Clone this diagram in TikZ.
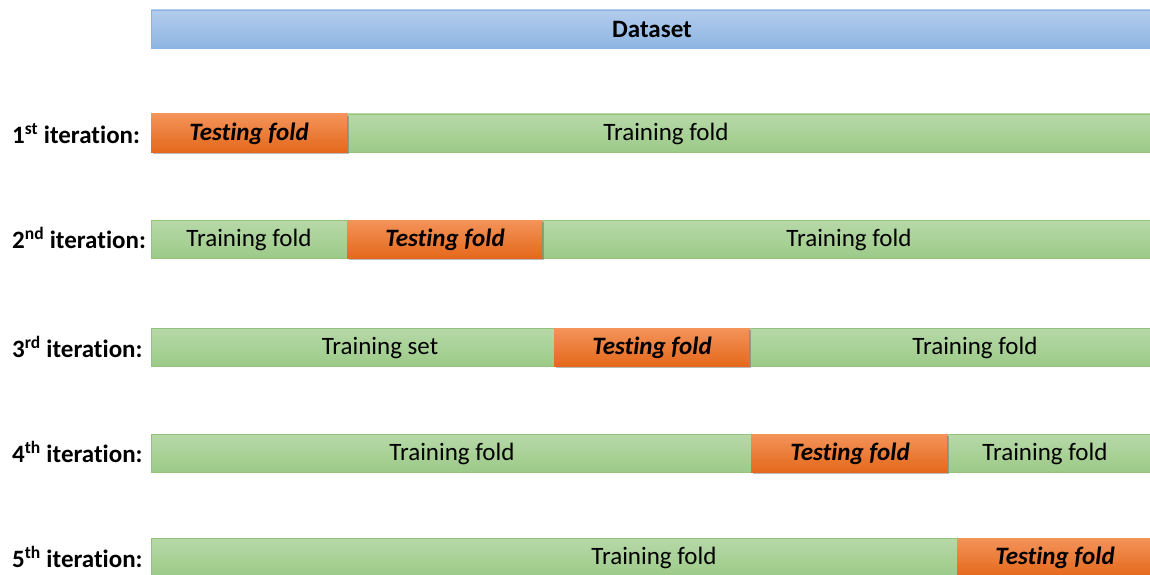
\documentclass[tikz,border=0pt]{standalone}
\usepackage{fontspec}
\setmainfont{Carlito}[Ligatures=NoCommon]
\usetikzlibrary{shadows}
\definecolor{gtop}{HTML}{B7D9A8}
\definecolor{gbot}{HTML}{9CCA88}
\definecolor{gline}{HTML}{93C47D}
\definecolor{otop}{HTML}{F4935A}
\definecolor{obot}{HTML}{E4691B}
\definecolor{btop}{HTML}{B2CCEC}
\definecolor{bbot}{HTML}{8EB6E3}
\definecolor{bline}{HTML}{8DB3E2}
\tikzset{
  bar/.style={anchor=north west, minimum height=38pt, inner sep=0pt, outer sep=0pt},
  trainbar/.style={bar, top color=gtop, bottom color=gbot, draw=gline, line width=0.8pt},
  testbar/.style={bar, top color=otop, bottom color=obot, draw=none,
    drop shadow={opacity=0.45, shadow xshift=1.5pt, shadow yshift=-2pt, fill=black!60}},
  databar/.style={bar, top color=btop, bottom color=bbot, draw=bline, line width=0.8pt},
  txt/.style={font=\fontsize{25}{30}\selectfont, inner sep=0pt},
  testtxt/.style={font=\fontsize{25}{30}\selectfont\bfseries\itshape, inner sep=0pt},
  lab/.style={font=\fontsize{25}{30}\selectfont\bfseries, inner sep=0pt, anchor=west}
}
\begin{document}
\begin{tikzpicture}[x=1pt,y=-1pt]
\useasboundingbox (0,0) rectangle (1150,575);
\clip (0,0) rectangle (1150,575);
% dataset
\node[databar, minimum width=999pt] (data) at (151,10) {};
\node[txt, font=\fontsize{25}{30}\selectfont\bfseries] (datat) at (652,29) {Dataset};
% row 1
\node[trainbar, minimum width=803pt] (r1b) at (347,114) {};
\node[testbar, minimum width=196pt] (r1a) at (151,114) {};
\node[testtxt] (r1at) at (249,134) {Testing fold};
\node[txt] (r1bt) at (666,134) {Training fold};
\node[lab] (l1) at (12,134) {1\textsuperscript{st} iteration:};
% row 2
\node[trainbar, minimum width=196pt] (r2a) at (151,220) {};
\node[trainbar, minimum width=608pt] (r2c) at (542,220) {};
\node[testbar, minimum width=195pt] (r2b) at (347,220) {};
\node[txt] (r2at) at (249,240) {Training fold};
\node[testtxt] (r2bt) at (445,240) {Testing fold};
\node[txt] (r2ct) at (849,240) {Training fold};
\node[lab] (l2) at (12,238) {2\textsuperscript{nd} iteration:};
% row 3
\node[trainbar, minimum width=403pt] (r3a) at (151,328) {};
\node[trainbar, minimum width=401pt] (r3c) at (749,328) {};
\node[testbar, minimum width=195pt] (r3b) at (554,328) {};
\node[txt] (r3at) at (380,348) {Training set};
\node[testtxt] (r3bt) at (652,348) {Testing fold};
\node[txt] (r3ct) at (975,348) {Training fold};
\node[lab] (l3) at (12,347) {3\textsuperscript{rd} iteration:};
% row 4
\node[trainbar, minimum width=600pt] (r4a) at (151,434) {};
\node[trainbar, minimum width=203pt] (r4c) at (947,434) {};
\node[testbar, minimum width=196pt] (r4b) at (751,434) {};
\node[txt] (r4at) at (452,454) {Training fold};
\node[testtxt] (r4bt) at (850,454) {Testing fold};
\node[txt] (r4ct) at (1045,454) {Training fold};
\node[lab] (l4) at (12,452) {4\textsuperscript{th} iteration:};
% row 5
\node[trainbar, minimum width=806pt] (r5a) at (151,538) {};
\node[testbar, minimum width=193pt] (r5b) at (957,538) {};
\node[txt] (r5at) at (654,558) {Training fold};
\node[testtxt] (r5bt) at (1055,558) {Testing fold};
\node[lab] (l5) at (12,557) {5\textsuperscript{th} iteration:};
\end{tikzpicture}
\end{document}
